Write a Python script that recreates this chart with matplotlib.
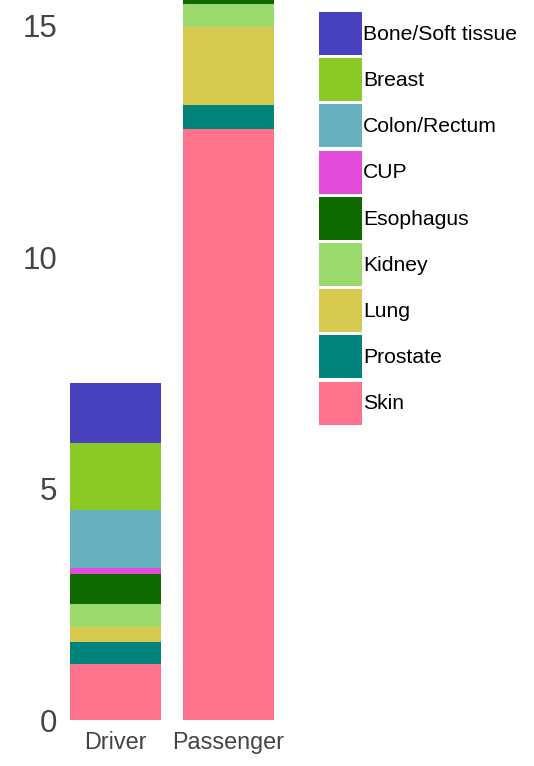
import matplotlib
matplotlib.use('Agg')
import matplotlib.pyplot as plt
from matplotlib.patches import Patch
import numpy as np

plt.rcParams['font.family'] = ['Liberation Sans', 'DejaVu Sans']

groups = ["Driver", "Passenger"]
categories = ["Bone/Soft tissue", "Breast", "Colon/Rectum", "CUP", "Esophagus",
              "Kidney", "Lung", "Prostate", "Skin"]
colors = ["#4740BF", "#8AC926", "#67B0BF", "#E34CDA", "#0F6B00",
          "#9BD96D", "#D6C94F", "#00837A", "#FE738B"]
driver = [1.30, 1.44, 1.25, 0.13, 0.65, 0.50, 0.32, 0.48, 1.21]
passenger = [1.30, 1.60, 1.10, 0.10, 0.50, 0.50, 1.68, 0.52, 12.76]
yticks = [0, 5, 10, 15]

W, H = 534, 766
fig = plt.figure(figsize=(W / 100, H / 100), dpi=100)
ax = fig.add_axes([59 / W, 1 - 720 / H, (285 - 59) / W, 720 / H])

x = np.arange(len(groups))
bottom = np.zeros(len(groups))
# stack from bottom (Skin) to top (Bone/Soft tissue)
for i in reversed(range(len(categories))):
    vals = np.array([driver[i], passenger[i]])
    ax.bar(x, vals, width=0.8, bottom=bottom, color=colors[i], linewidth=0)
    bottom += vals

ax.set_xlim(-0.5, 1.5)
ax.set_ylim(0, 720 / 46.3)
ax.set_yticks(yticks)
ax.set_yticklabels([str(t) for t in yticks])
ax.set_xticks(x)
ax.set_xticklabels(groups)
ax.tick_params(axis='y', length=0, pad=1.5, labelsize=22.5, labelcolor='#444444')
ax.tick_params(axis='x', length=0, pad=8, labelsize=16.8, labelcolor='#444444')
for s in ax.spines.values():
    s.set_visible(False)

handles = [Patch(facecolor=c, edgecolor='none') for c in colors]
fs = 15.2
fpx = fs / 72 * 100
hh = (43 / fpx - 0.245) / 0.65
leg = fig.legend(handles, categories, loc='upper left',
                 bbox_to_anchor=(319 / W, 1 - 12 / H), frameon=False,
                 fontsize=fs, handlelength=43 / fpx, handleheight=hh,
                 labelspacing=3.2 / fpx, handletextpad=1 / fpx, borderpad=0,
                 borderaxespad=0)

fig.savefig('out.png', dpi=100)
